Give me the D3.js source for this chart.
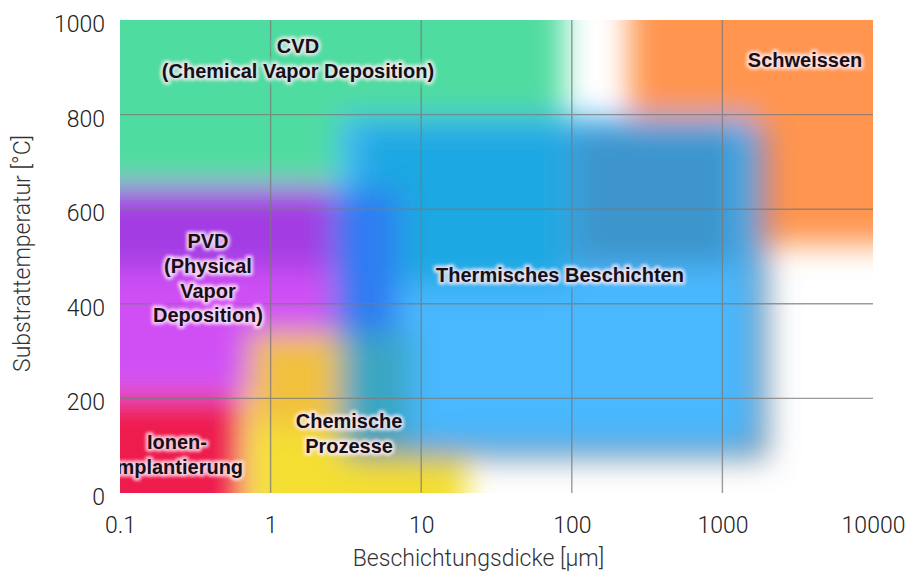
<!DOCTYPE html>
<html><head><meta charset="utf-8">
<script src="https://cdn.jsdelivr.net/npm/d3@7"></script>
<style>html,body{margin:0;padding:0;background:#fff;}</style>
</head><body><svg id="chart" width="920" height="571"></svg>
<script>
// ---- data ----
const xTickValues = [0.1, 1, 10, 100, 1000, 10000];
const xTickLabels = ["0.1", "1", "10", "100", "1000", "10000"];
const yTickValues = [0, 200, 400, 600, 800, 1000];
const xTitle = "Beschichtungsdicke [µm]";
const yTitle = "Substrattemperatur [°C]";

// process regions (thickness in µm, substrate temperature in °C)
const regionNames = ["CVD", "Schweissen", "PVD (oben)", "PVD (unten)", "Ionenimplantierung",
  "Chemische Prozesse (oben)", "Chemische Prozesse (unten)", "Chemische Prozesse (Auslauf)",
  "Schatten", "Thermisches Beschichten", "Thermisches Beschichten (cyan)",
  "Thermisches Beschichten (stahlblau)", "Übergang PVD", "Übergang Chemie"];
const thicknessFrom = [0.03, 240, 0.03, 0.03, 0.03, 0.72, 0.72, 0.72, 3.2, 2.9, 3.8, 100, 2.6, 2.9];
const thicknessTo   = [89, 30000, 2.6, 2.6, 0.65, 3.3, 3.3, 20, 2000, 1600, 95, 1250, 7, 8.5];
const tempFrom      = [655, 525, 470, 210, -200, 140, -200, -200, 72, 100, 440, 480, 340, 100];
const tempTo        = [1200, 1200, 650, 470, 205, 340, 140, 85, 770, 795, 780, 775, 640, 340];
const regionColors  = ["#50dca0", "#ff954f", "#a33de3", "#d050f5", "#ee1d4e",
  "#f2c13d", "#f4df32", "#f4df32", "#5b6f80", "#48b8fe", "#1aa8e2", "#3d95cc", "#2e7cf2", "#3aa6c2"];

// labels (x centre in µm, baseline of first line in °C)
const labelLines = [["CVD", "(Chemical Vapor Deposition)"], ["Schweissen"],
  ["PVD", "(Physical", "Vapor", "Deposition)"], ["Thermisches Beschichten"],
  ["Ionen-", "implantierung"], ["Chemische", "Prozesse"]];
const labelThickness = [1.52, 3540, 0.384, 83.5, 0.239, 3.32];
const labelTemp = [930, 900, 518, 446, 93, 137];

// ---- chart ----
const svg = d3.select("#chart");
const x = d3.scaleLog().domain([0.1, 10000]).range([120, 873]);
const y = d3.scaleLinear().domain([0, 1000]).range([493, 20]);
const [px0, px1] = x.range();
const [py1, py0] = y.range();

const defs = svg.append("defs");
defs.append("clipPath").attr("id", "plotClip").append("rect")
  .attr("x", px0).attr("y", py0).attr("width", px1 - px0).attr("height", py1 - py0);
const blur = defs.append("filter").attr("id", "soft").attr("filterUnits", "userSpaceOnUse")
  .attr("x", -200).attr("y", -200).attr("width", 1400).attr("height", 1000);
blur.append("feGaussianBlur").attr("stdDeviation", 15);
const haloBlur = defs.append("filter").attr("id", "halo").attr("x", "-20%").attr("y", "-50%")
  .attr("width", "140%").attr("height", "200%");
haloBlur.append("feGaussianBlur").attr("stdDeviation", 1.8);
const maskBlur = defs.append("filter").attr("id", "maskBlur").attr("x", "-20%").attr("y", "-50%")
  .attr("width", "140%").attr("height", "200%");
maskBlur.append("feGaussianBlur").attr("stdDeviation", 2);

const regions = regionNames.map((n, i) => ({
  name: n, x0: thicknessFrom[i], x1: thicknessTo[i], t0: tempFrom[i], t1: tempTo[i], color: regionColors[i]
}));
const labels = labelLines.map((lines, i) => ({ lines, xv: labelThickness[i], tv: labelTemp[i] }));

// colour areas
const plot = svg.append("g").attr("clip-path", "url(#plotClip)");
plot.append("g").attr("filter", "url(#soft)")
  .selectAll("rect").data(regions).join("rect")
  .attr("x", d => x(d.x0)).attr("y", d => y(d.t1))
  .attr("width", d => x(d.x1) - x(d.x0)).attr("height", d => y(d.t0) - y(d.t1))
  .attr("fill", d => d.color)
  .attr("opacity", d => d.name === "Schatten" ? 0.85 : 1);

// mask to open gaps in the grid around the labels
const lineH = 24.8;
function drawLabelText(sel) {
  sel.each(function (d) {
    const g = d3.select(this);
    d.lines.forEach((ln, k) => {
      g.append("text").attr("x", x(d.xv)).attr("y", y(d.tv) + k * lineH).text(ln);
    });
  });
}
const mask = defs.append("mask").attr("id", "gridMask").attr("maskUnits", "userSpaceOnUse")
  .attr("x", 0).attr("y", 0).attr("width", 920).attr("height", 571);
mask.append("rect").attr("width", 920).attr("height", 571).attr("fill", "#fff");
mask.append("g").attr("filter", "url(#maskBlur)")
  .attr("font-family", "'Liberation Sans', Arial, sans-serif").attr("font-weight", "bold")
  .attr("font-size", 20).attr("text-anchor", "middle")
  .attr("fill", "#000").attr("stroke", "#000").attr("stroke-width", 12).attr("stroke-linejoin", "round")
  .selectAll("g").data(labels).join("g").call(drawLabelText);

// grid
const grid = svg.append("g").attr("mask", "url(#gridMask)")
  .attr("stroke", "#7a7a7a").attr("stroke-width", 1.4).attr("opacity", 0.75);
grid.selectAll("line.v").data(xTickValues.slice(1, -1)).join("line").attr("class", "v")
  .attr("x1", d => x(d)).attr("x2", d => x(d)).attr("y1", py0).attr("y2", py1);
grid.selectAll("line.h").data(yTickValues.slice(1, -1)).join("line").attr("class", "h")
  .attr("x1", px0).attr("x2", px1).attr("y1", d => y(d)).attr("y2", d => y(d));

// labels with halo
const lab = svg.append("g").attr("clip-path", "url(#plotClip)")
  .attr("font-family", "'Liberation Sans', Arial, sans-serif").attr("font-weight", "bold")
  .attr("font-size", 20).attr("text-anchor", "middle");
lab.append("g").attr("filter", "url(#halo)")
  .attr("fill", "none").attr("stroke", "rgba(255,235,245,0.75)").attr("stroke-width", 5.5)
  .attr("stroke-linejoin", "round")
  .selectAll("g").data(labels).join("g").call(drawLabelText);
lab.append("g").attr("fill", "#151018")
  .selectAll("g").data(labels).join("g").call(drawLabelText);

// axes
const tickFont = "Roboto, 'Open Sans', 'Liberation Sans', sans-serif";
const xAxis = svg.append("g").attr("transform", `translate(0,${py1})`)
  .call(d3.axisBottom(x).tickValues(xTickValues).tickFormat((d, i) => xTickLabels[i])
    .tickSize(0).tickPadding(24));
const yAxis = svg.append("g").attr("transform", `translate(${px0},0)`)
  .call(d3.axisLeft(y).tickValues(yTickValues).tickFormat(d3.format("d"))
    .tickSize(0).tickPadding(15));
[xAxis, yAxis].forEach(a => {
  a.select(".domain").remove();
  a.selectAll("text").attr("font-family", tickFont).attr("font-weight", 300)
    .attr("font-size", 23).attr("fill", "#222");
});
yAxis.selectAll("text").attr("dy", "0.5em");

svg.append("text").attr("x", (px0 + px1) / 2 - 18).attr("y", 566)
  .attr("text-anchor", "middle").attr("font-family", tickFont).attr("font-weight", 300)
  .attr("font-size", 23).attr("fill", "#333").text(xTitle);
svg.append("text").attr("transform", `translate(30,${(py0 + py1) / 2 - 3}) rotate(-90)`)
  .attr("text-anchor", "middle").attr("font-family", tickFont).attr("font-weight", 300)
  .attr("font-size", 23).attr("fill", "#333").text(yTitle);
</script></body></html>
